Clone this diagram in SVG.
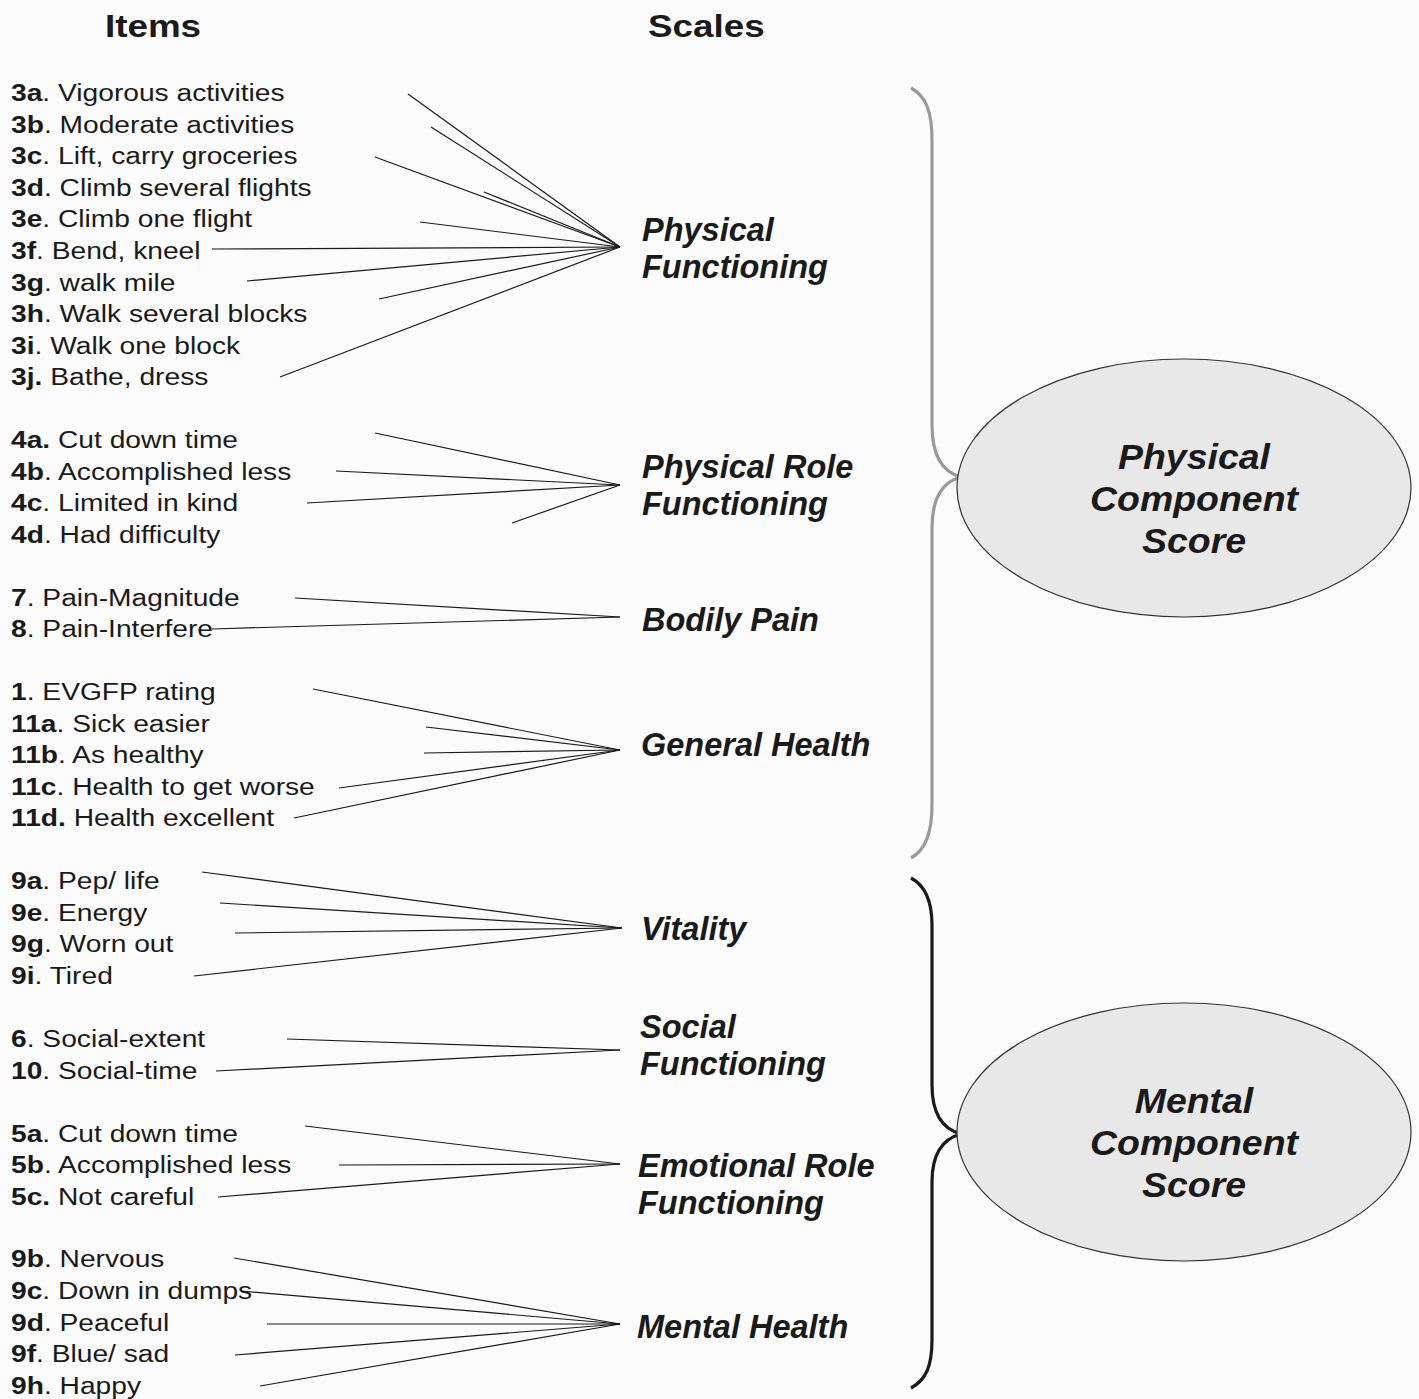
<svg xmlns="http://www.w3.org/2000/svg" width="1419" height="1399" viewBox="0 0 1419 1399">
<style>
.hdr{font-family:"Liberation Sans",Arial,sans-serif;font-size:32px;font-weight:bold;fill:#1a1a1a}
.item{font-family:"Liberation Sans",Arial,sans-serif;font-size:24.5px;fill:#1a1a1a}
.item .b{font-weight:bold}
.scale{font-family:"Liberation Sans",Arial,sans-serif;font-size:32.5px;font-weight:bold;font-style:italic;fill:#1a1a1a}
.comp{font-family:"Liberation Sans",Arial,sans-serif;font-size:35px;font-weight:bold;font-style:italic;fill:#1a1a1a;text-anchor:middle}
.conn line{stroke:#1a1a1a;stroke-width:1.2}
.ell{fill:#e8e8e8;stroke:#333;stroke-width:1.2}
.brace{fill:none;stroke-width:3.2;stroke-linejoin:miter}
</style>
<rect width="1419" height="1399" fill="#fbfbfb"/>

<g id="headers" transform="scale(1.15 1)">
<text class="hdr" x="91.3" y="37.5">Items</text>
<text class="hdr" x="563.5" y="37.5">Scales</text>
</g>

<g id="items" transform="scale(1.15 1)">
<text class="item" x="9.6" y="101"><tspan class="b">3a</tspan>. Vigorous activities</text>
<text class="item" x="9.6" y="132.6"><tspan class="b">3b</tspan>. Moderate activities</text>
<text class="item" x="9.6" y="164.2"><tspan class="b">3c</tspan>. Lift, carry groceries</text>
<text class="item" x="9.6" y="195.8"><tspan class="b">3d</tspan>. Climb several flights</text>
<text class="item" x="9.6" y="227.4"><tspan class="b">3e</tspan>. Climb one flight</text>
<text class="item" x="9.6" y="259"><tspan class="b">3f</tspan>. Bend, kneel</text>
<text class="item" x="9.6" y="290.6"><tspan class="b">3g</tspan>. walk mile</text>
<text class="item" x="9.6" y="322.2"><tspan class="b">3h</tspan>. Walk several blocks</text>
<text class="item" x="9.6" y="353.8"><tspan class="b">3i</tspan>. Walk one block</text>
<text class="item" x="9.6" y="385.4"><tspan class="b">3j.</tspan> Bathe, dress</text>

<text class="item" x="9.6" y="448"><tspan class="b">4a.</tspan> Cut down time</text>
<text class="item" x="9.6" y="480"><tspan class="b">4b</tspan>. Accomplished less</text>
<text class="item" x="9.6" y="511"><tspan class="b">4c</tspan>. Limited in kind</text>
<text class="item" x="9.6" y="543"><tspan class="b">4d</tspan>. Had difficulty</text>

<text class="item" x="9.6" y="606"><tspan class="b">7</tspan>. Pain-Magnitude</text>
<text class="item" x="9.6" y="637"><tspan class="b">8</tspan>. Pain-Interfere</text>

<text class="item" x="9.6" y="700"><tspan class="b">1</tspan>. EVGFP rating</text>
<text class="item" x="9.6" y="732"><tspan class="b">11a</tspan>. Sick easier</text>
<text class="item" x="9.6" y="763"><tspan class="b">11b</tspan>. As healthy</text>
<text class="item" x="9.6" y="795"><tspan class="b">11c</tspan>. Health to get worse</text>
<text class="item" x="9.6" y="826"><tspan class="b">11d.</tspan> Health excellent</text>

<text class="item" x="9.6" y="889"><tspan class="b">9a</tspan>. Pep/ life</text>
<text class="item" x="9.6" y="921"><tspan class="b">9e</tspan>. Energy</text>
<text class="item" x="9.6" y="952"><tspan class="b">9g</tspan>. Worn out</text>
<text class="item" x="9.6" y="984"><tspan class="b">9i</tspan>. Tired</text>

<text class="item" x="9.6" y="1047"><tspan class="b">6</tspan>. Social-extent</text>
<text class="item" x="9.6" y="1079"><tspan class="b">10</tspan>. Social-time</text>

<text class="item" x="9.6" y="1142"><tspan class="b">5a</tspan>. Cut down time</text>
<text class="item" x="9.6" y="1173"><tspan class="b">5b</tspan>. Accomplished less</text>
<text class="item" x="9.6" y="1205"><tspan class="b">5c.</tspan> Not careful</text>

<text class="item" x="9.6" y="1267"><tspan class="b">9b</tspan>. Nervous</text>
<text class="item" x="9.6" y="1299"><tspan class="b">9c</tspan>. Down in dumps</text>
<text class="item" x="9.6" y="1331"><tspan class="b">9d</tspan>. Peaceful</text>
<text class="item" x="9.6" y="1362"><tspan class="b">9f</tspan>. Blue/ sad</text>
<text class="item" x="9.6" y="1394"><tspan class="b">9h</tspan>. Happy</text>
</g>

<g id="connectors" class="conn">
<line x1="408" y1="94" x2="620" y2="247"/>
<line x1="431" y1="127" x2="620" y2="247"/>
<line x1="375" y1="157" x2="620" y2="247"/>
<line x1="484" y1="192" x2="620" y2="247"/>
<line x1="420" y1="222" x2="620" y2="247"/>
<line x1="212" y1="249" x2="620" y2="247"/>
<line x1="247" y1="281" x2="620" y2="247"/>
<line x1="379" y1="299" x2="620" y2="247"/>
<line x1="280" y1="377" x2="620" y2="247"/>

<line x1="375" y1="433" x2="620" y2="485"/>
<line x1="336" y1="471" x2="620" y2="485"/>
<line x1="307" y1="503" x2="620" y2="485"/>
<line x1="512" y1="523" x2="620" y2="485"/>

<line x1="295" y1="598" x2="620" y2="617"/>
<line x1="212" y1="629" x2="620" y2="617"/>

<line x1="313" y1="689" x2="620" y2="750"/>
<line x1="426" y1="727" x2="620" y2="750"/>
<line x1="424" y1="753" x2="620" y2="750"/>
<line x1="339" y1="788" x2="620" y2="750"/>
<line x1="294" y1="818" x2="620" y2="750"/>

<line x1="202" y1="872" x2="622" y2="928"/>
<line x1="220" y1="903" x2="622" y2="928"/>
<line x1="235" y1="933" x2="622" y2="928"/>
<line x1="194" y1="976" x2="622" y2="928"/>

<line x1="287" y1="1039" x2="620" y2="1050"/>
<line x1="216" y1="1071" x2="620" y2="1050"/>

<line x1="305" y1="1126" x2="620" y2="1164"/>
<line x1="339" y1="1165" x2="620" y2="1164"/>
<line x1="218" y1="1197" x2="620" y2="1164"/>

<line x1="234" y1="1258" x2="620" y2="1324"/>
<line x1="241" y1="1291" x2="620" y2="1324"/>
<line x1="267" y1="1324" x2="620" y2="1324"/>
<line x1="235" y1="1355" x2="620" y2="1324"/>
<line x1="260" y1="1386" x2="620" y2="1324"/>
</g>

<g id="scale-physical-functioning"><text class="scale" x="642" y="241">Physical</text><text class="scale" x="642" y="278">Functioning</text></g>
<g id="scale-physical-role"><text class="scale" x="642" y="478">Physical Role</text><text class="scale" x="642" y="515">Functioning</text></g>
<g id="scale-bodily-pain"><text class="scale" x="642" y="631">Bodily Pain</text></g>
<g id="scale-general-health"><text class="scale" x="641" y="756">General Health</text></g>
<g id="scale-vitality"><text class="scale" x="641" y="940">Vitality</text></g>
<g id="scale-social"><text class="scale" x="640" y="1038">Social</text><text class="scale" x="640" y="1075">Functioning</text></g>
<g id="scale-emotional-role"><text class="scale" x="638" y="1177">Emotional Role</text><text class="scale" x="638" y="1214">Functioning</text></g>
<g id="scale-mental-health"><text class="scale" x="637" y="1338">Mental Health</text></g>

<g id="brace-physical">
<path class="brace" stroke="#999" d="M911,88 C926,96 932,112 932,140 L932,425 C932,455 942,472 961,477 C942,482 932,498 932,528 L932,805 C932,832 926,850 911,858"/>
</g>
<g id="brace-mental">
<path class="brace" stroke="#1a1a1a" d="M911,878 C926,886 932,902 932,925 L932,1085 C932,1114 942,1129 961,1134 C942,1139 932,1155 932,1182 L932,1340 C932,1366 926,1380 911,1388"/>
</g>

<g id="pcs">
<ellipse class="ell" cx="1184" cy="488" rx="227" ry="129"/>
<g transform="scale(1.07 1)">
<text class="comp" x="1115.9" y="469">Physical</text>
<text class="comp" x="1115.9" y="511">Component</text>
<text class="comp" x="1115.9" y="553">Score</text>
</g>
</g>
<g id="mcs">
<ellipse class="ell" cx="1184" cy="1132" rx="227" ry="129"/>
<g transform="scale(1.07 1)">
<text class="comp" x="1115.9" y="1113">Mental</text>
<text class="comp" x="1115.9" y="1155">Component</text>
<text class="comp" x="1115.9" y="1197">Score</text>
</g>
</g>
</svg>
